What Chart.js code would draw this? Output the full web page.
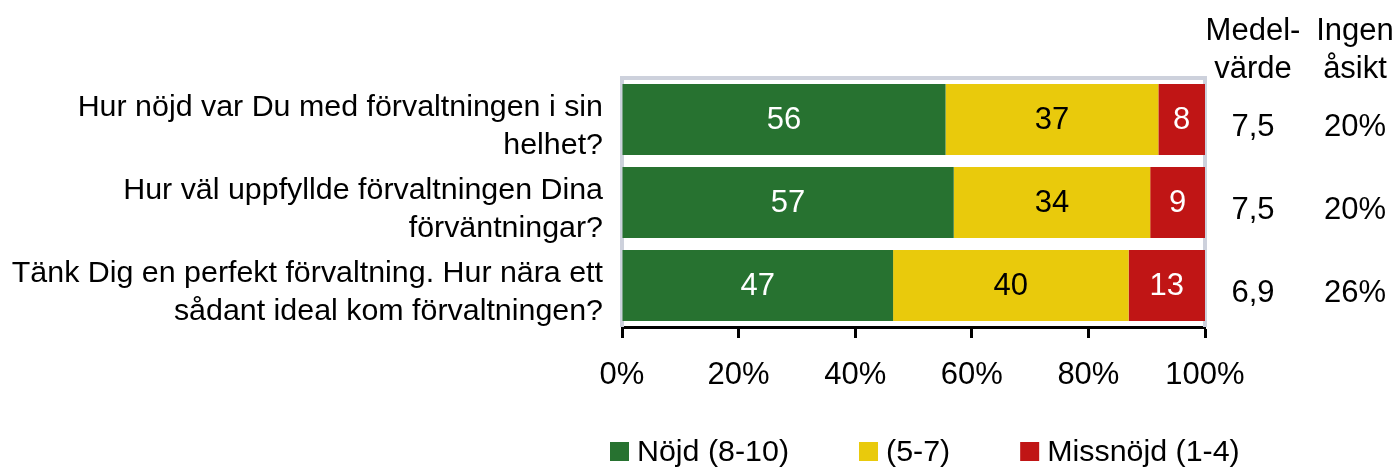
<!DOCTYPE html>
<html>
<head>
<meta charset="utf-8">
<script src="https://cdn.jsdelivr.net/npm/chart.js@4"></script>
<style>
  html, body { margin: 0; padding: 0; background: #fff; }
</style>
</head>
<body>
<canvas id="myChart" width="1393" height="469"></canvas>
<script>
'use strict';

const categories = [
  ['Hur nöjd var Du med förvaltningen i sin', 'helhet?'],
  ['Hur väl uppfyllde förvaltningen Dina', 'förväntningar?'],
  ['Tänk Dig en perfekt förvaltning. Hur nära ett', 'sådant ideal kom förvaltningen?'],
];
const nojd = [55.5, 56.9, 46.5];
const mellan = [36.5, 33.7, 40.4];
const missnojd = [8.0, 9.4, 13.1];
const seriesNames = ['Nöjd (8-10)', '(5-7)', 'Missnöjd (1-4)'];
const medelvarde = ['7,5', '7,5', '6,9'];
const ingenAsikt = ['20%', '20%', '26%'];
const columnHeads = [['Medel-', 'värde'], ['Ingen', 'åsikt']];

const FONT = '"Liberation Sans", Arial, sans-serif';
const colors = ['#277230', '#E9CA0C', '#C01515'];
const labelColors = ['#fff', '#000', '#fff'];

const framePlugin = {
  id: 'frame',
  beforeDatasetsDraw(chart) {
    const { ctx, chartArea: a } = chart;
    ctx.save();
    ctx.strokeStyle = '#CDD1DC';
    ctx.lineWidth = 4;
    ctx.beginPath();
    ctx.moveTo(a.left, a.bottom);
    ctx.lineTo(a.left, a.top);
    ctx.lineTo(a.right, a.top);
    ctx.lineTo(a.right, a.bottom);
    ctx.stroke();
    ctx.restore();
  },
};

const extrasPlugin = {
  id: 'extras',
  afterDatasetsDraw(chart) {
    const ctx = chart.ctx;
    ctx.save();
    ctx.font = '31px ' + FONT;
    ctx.textAlign = 'center';
    ctx.textBaseline = 'middle';
    chart.data.datasets.forEach((ds, i) => {
      chart.getDatasetMeta(i).data.forEach((bar, j) => {
        ctx.fillStyle = labelColors[i];
        ctx.fillText(Math.round(ds.data[j]), (bar.x + bar.base) / 2, bar.y + 1);
      });
    });
    ctx.restore();
  },
  afterDraw(chart) {
    const { ctx, chartArea: a } = chart;
    const y = chart.scales.y;
    const cols = [a.right + 48, a.right + 150];
    ctx.save();
    ctx.font = '31px ' + FONT;
    ctx.fillStyle = '#000';
    ctx.textAlign = 'center';
    ctx.textBaseline = 'middle';
    columnHeads.forEach((lines, c) => {
      ctx.fillText(lines[0], cols[c], 31);
      ctx.fillText(lines[1], cols[c], 69);
    });
    categories.forEach((cat, i) => {
      const py = y.getPixelForValue(i) + 8;
      ctx.fillText(medelvarde[i], cols[0], py);
      ctx.fillText(ingenAsikt[i], cols[1], py);
    });

    // legend
    ctx.font = '30.4px ' + FONT;
    let x = a.left - 12;
    const ly = 453;
    ctx.textAlign = 'left';
    chart.data.datasets.forEach((ds) => {
      ctx.fillStyle = ds.backgroundColor;
      ctx.fillRect(x, ly - 11, 19, 19);
      ctx.fillStyle = '#000';
      ctx.fillText(ds.label, x + 27, ly);
      x += 27 + ctx.measureText(ds.label).width + 70;
    });
    ctx.restore();
  },
};

const data = {
  labels: categories,
  datasets: [
    { label: seriesNames[0], data: nojd, backgroundColor: colors[0] },
    { label: seriesNames[1], data: mellan, backgroundColor: colors[1] },
    { label: seriesNames[2], data: missnojd, backgroundColor: colors[2] },
  ],
};

const config = {
  type: 'bar',
  data,
  options: {
    indexAxis: 'y',
    responsive: false,
    animation: false,
    devicePixelRatio: 1,
    layout: { padding: { top: 78, right: 188, bottom: 82, left: 0 } },
    datasets: { bar: { categoryPercentage: 1, barPercentage: 0.855 } },
    plugins: {
      legend: { display: false },
      tooltip: { enabled: false },
    },
    scales: {
      x: {
        stacked: true,
        min: 0,
        max: 100,
        afterFit(scale) { scale.height = 60; },
        ticks: {
          stepSize: 20,
          color: '#000',
          padding: 19,
          font: { family: FONT, size: 31 },
          callback: (v) => v + '%',
        },
        grid: {
          drawOnChartArea: false,
          drawTicks: true,
          tickLength: 11,
          tickWidth: 3,
          tickColor: '#000',
        },
        border: { display: true, color: '#000', width: 3 },
      },
      y: {
        stacked: true,
        afterFit(scale) { scale.width = 622; },
        ticks: {
          color: '#000',
          padding: 19,
          labelOffset: 7,
          font: { family: FONT, size: 30.4, lineHeight: 1.24 },
        },
        grid: { display: false, drawTicks: false },
        border: { display: false },
      },
    },
  },
  plugins: [framePlugin, extrasPlugin],
};

const myChart = new Chart(document.getElementById('myChart'), config);
</script>
</body>
</html>
